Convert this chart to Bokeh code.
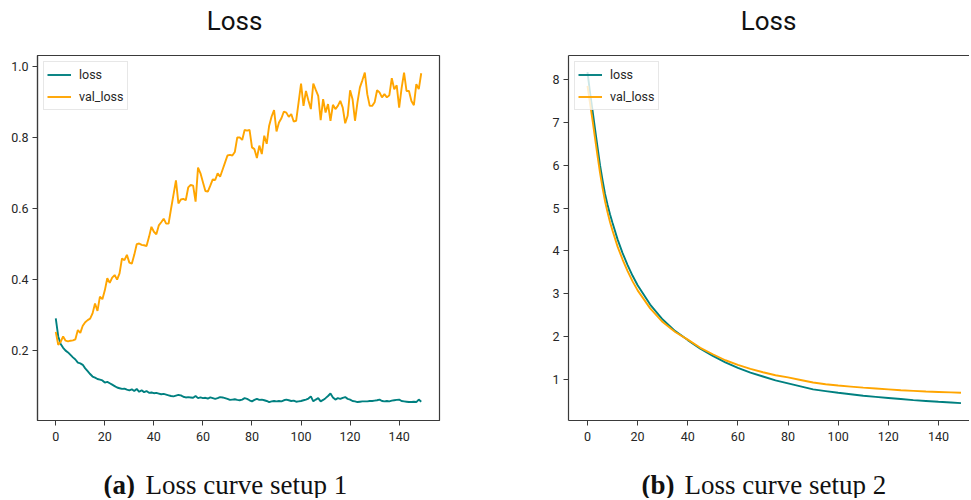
from bokeh.plotting import figure
from bokeh.layouts import column, row
from bokeh.models import Range1d, FixedTicker, LinearAxis, ColumnDataSource
from bokeh.core.properties import value
from bokeh.embed import file_html
from bokeh.resources import INLINE

# ---------------- data ----------------
titles = ["Loss", "Loss"]
series_names = ["loss", "val_loss"]
captions_bold = ["(a)", "(b)"]
captions_text = ["Loss curve setup 1", "Loss curve setup 2"]

epochs_1 = list(range(150))
loss_1 = [
    0.291, 0.240, 0.219, 0.208, 0.200, 0.195, 0.188, 0.181, 0.175, 0.166,
    0.164, 0.160, 0.150, 0.142, 0.134, 0.127, 0.124, 0.120, 0.118, 0.116,
    0.110, 0.112, 0.108, 0.104, 0.100, 0.096, 0.094, 0.092, 0.093, 0.090,
    0.088, 0.091, 0.086, 0.092, 0.084, 0.088, 0.083, 0.086, 0.081, 0.082,
    0.080, 0.081, 0.079, 0.077, 0.078, 0.076, 0.074, 0.072, 0.071, 0.073,
    0.075, 0.074, 0.070, 0.068, 0.069, 0.068, 0.067, 0.072, 0.066, 0.068,
    0.066, 0.067, 0.065, 0.068, 0.066, 0.064, 0.066, 0.069, 0.068, 0.066,
    0.064, 0.061, 0.062, 0.063, 0.061, 0.060, 0.062, 0.066, 0.064, 0.060,
    0.057, 0.061, 0.064, 0.061, 0.062, 0.060, 0.058, 0.055, 0.057, 0.058,
    0.057, 0.058, 0.057, 0.060, 0.062, 0.060, 0.058, 0.059, 0.056, 0.057,
    0.058, 0.060, 0.062, 0.065, 0.071, 0.057, 0.062, 0.066, 0.057, 0.061,
    0.066, 0.072, 0.079, 0.068, 0.062, 0.066, 0.064, 0.067, 0.069, 0.064,
    0.062, 0.058, 0.057, 0.055, 0.056, 0.057, 0.057, 0.057, 0.058, 0.058,
    0.059, 0.060, 0.062, 0.058, 0.057, 0.058, 0.057, 0.059, 0.060, 0.061,
    0.062, 0.058, 0.057, 0.056, 0.055, 0.055, 0.056, 0.055, 0.062, 0.056,
]
val_loss_1 = [
    0.253, 0.216, 0.225, 0.240, 0.228, 0.226, 0.228, 0.229, 0.232, 0.258,
    0.250, 0.270, 0.280, 0.286, 0.290, 0.305, 0.333, 0.312, 0.352, 0.345,
    0.370, 0.404, 0.391, 0.406, 0.413, 0.400, 0.418, 0.460, 0.455, 0.470,
    0.448, 0.445, 0.470, 0.500, 0.502, 0.498, 0.497, 0.495, 0.520, 0.549,
    0.535, 0.528, 0.553, 0.562, 0.572, 0.558, 0.558, 0.600, 0.640, 0.680,
    0.615, 0.626, 0.628, 0.624, 0.660, 0.667, 0.665, 0.620, 0.716, 0.700,
    0.675, 0.650, 0.648, 0.665, 0.683, 0.681, 0.700, 0.690, 0.710, 0.730,
    0.750, 0.752, 0.750, 0.760, 0.801, 0.801, 0.794, 0.822, 0.820, 0.822,
    0.773, 0.768, 0.743, 0.778, 0.754, 0.806, 0.783, 0.834, 0.860, 0.878,
    0.818, 0.843, 0.855, 0.874, 0.871, 0.859, 0.867, 0.846, 0.848, 0.900,
    0.953, 0.890, 0.932, 0.905, 0.881, 0.953, 0.935, 0.918, 0.850, 0.909,
    0.871, 0.895, 0.848, 0.893, 0.881, 0.890, 0.904, 0.885, 0.841, 0.862,
    0.934, 0.909, 0.848, 0.900, 0.942, 0.962, 0.984, 0.923, 0.890, 0.890,
    0.900, 0.934, 0.928, 0.914, 0.923, 0.914, 0.920, 0.968, 0.937, 0.948,
    0.885, 0.940, 0.984, 0.932, 0.932, 0.904, 0.892, 0.951, 0.937, 0.982,
]

epochs_2 = [0, 1, 2, 3, 4, 5, 6, 7, 8, 9, 10, 12, 14, 16, 18, 20, 25, 30, 35,
            40, 45, 50, 55, 60, 65, 70, 75, 80, 85, 90, 95, 100, 105, 110,
            115, 120, 125, 130, 135, 140, 145, 149]
loss_2 = [8.17, 7.70, 7.28, 6.85, 6.42, 6.00, 5.65, 5.33, 5.08, 4.85, 4.65,
          4.27, 3.95, 3.67, 3.42, 3.20, 2.75, 2.40, 2.13, 1.92, 1.72, 1.55,
          1.40, 1.27, 1.16, 1.07, 0.98, 0.91, 0.84, 0.77, 0.73, 0.69, 0.655,
          0.62, 0.595, 0.57, 0.545, 0.52, 0.50, 0.48, 0.465, 0.45]
val_loss_2 = [7.85, 7.45, 7.05, 6.63, 6.22, 5.82, 5.47, 5.16, 4.90, 4.67, 4.47,
              4.10, 3.80, 3.53, 3.29, 3.08, 2.66, 2.34, 2.11, 1.93, 1.74, 1.59,
              1.45, 1.34, 1.25, 1.17, 1.10, 1.05, 0.99, 0.93, 0.89, 0.86, 0.835,
              0.81, 0.79, 0.77, 0.75, 0.735, 0.72, 0.71, 0.70, 0.69]

x_ticks = [0, 20, 40, 60, 80, 100, 120, 140]
y_ticks_1 = [0.2, 0.4, 0.6, 0.8, 1.0]
y_labels_1 = ["0.2", "0.4", "0.6", "0.8", "1.0"]
y_ticks_2 = [1, 2, 3, 4, 5, 6, 7, 8]

assert len(loss_1) == 150 and len(val_loss_1) == 150
assert len(epochs_2) == len(loss_2) == len(val_loss_2)

# ---------------- style ----------------
SANS = "Roboto"
SERIF = "Liberation Serif"
TEAL = "#008080"
ORANGE = "#FFA500"
SPINE = "#3a3a3a"
TXT = "#262626"
TOTAL_W = 969


def style_axis(ax):
    ax.axis_line_color = SPINE
    ax.axis_line_width = 1.2
    ax.major_tick_line_color = SPINE
    ax.major_tick_out = 5
    ax.major_tick_in = 0
    ax.minor_tick_out = 0
    ax.minor_tick_in = 0
    ax.major_label_text_font = SANS
    ax.major_label_text_font_size = "12.5px"
    ax.major_label_text_color = TXT


def make_plot(x, y_a, y_b, xr, yr, yticks, width, mbl, mbr, full_box, ylabels=None):
    p = figure(width=width, height=412, output_backend="svg", toolbar_location=None,
               x_range=Range1d(*xr), y_range=Range1d(*yr),
               min_border_left=mbl, min_border_right=mbr,
               min_border_top=15, min_border_bottom=32)
    p.xgrid.visible = False
    p.ygrid.visible = False
    p.background_fill_color = "white"
    p.border_fill_color = "white"
    p.xaxis.ticker = FixedTicker(ticks=x_ticks)
    p.yaxis.ticker = FixedTicker(ticks=yticks)
    if ylabels is not None:
        p.yaxis.major_label_overrides = {t: l for t, l in zip(yticks, ylabels)}
    p.xaxis.major_label_standoff = 6
    p.yaxis.major_label_standoff = 4
    for ax in p.xaxis + p.yaxis:
        style_axis(ax)
    if full_box:
        p.outline_line_color = SPINE
        p.outline_line_width = 1.2
        p.outline_line_alpha = 1.0
    else:
        p.outline_line_color = None
        top = LinearAxis(ticker=FixedTicker(ticks=[]))
        top.axis_line_color = SPINE
        top.axis_line_width = 1.2
        top.major_tick_out = 0
        top.major_tick_in = 0
        top.minor_tick_out = 0
        top.minor_tick_in = 0
        top.major_label_text_font_size = "0px"
        top.major_label_standoff = 0
        p.add_layout(top, "above")
    p.line(x, y_a, color=TEAL, line_width=1.9, legend_label=series_names[0])
    p.line(x, y_b, color=ORANGE, line_width=1.9, legend_label=series_names[1])
    lg = p.legend[0]
    lg.location = "top_left"
    lg.margin = 6
    lg.padding = 3
    lg.spacing = 3
    lg.glyph_width = 24
    lg.glyph_height = 19
    lg.label_height = 19
    lg.label_standoff = 8
    lg.label_text_font = SANS
    lg.label_text_font_size = "12.5px"
    lg.label_text_color = TXT
    lg.border_line_color = "#d0d0d0"
    lg.border_line_width = 1
    lg.background_fill_color = "white"
    lg.background_fill_alpha = 0.8
    return p


p1 = make_plot(epochs_1, loss_1, val_loss_1, (-7.45, 156.45), (0.003, 1.032),
               y_ticks_1, 520, 37, 81, True, y_labels_1)
p2 = make_plot(epochs_2, loss_2, val_loss_2, (-7.58, 152.4), (0.044, 8.56),
               y_ticks_2, TOTAL_W - 520, 48, 0, False)


def strip(height):
    s = figure(width=TOTAL_W, height=height, output_backend="svg", toolbar_location=None,
               x_range=Range1d(0, TOTAL_W), y_range=Range1d(0, height),
               x_axis_location=None, y_axis_location=None,
               min_border=0, min_border_left=0, min_border_right=0,
               min_border_top=0, min_border_bottom=0)
    s.outline_line_color = None
    s.xgrid.visible = False
    s.ygrid.visible = False
    return s


# titles strip (top, 40 px tall)
top_strip = strip(40)
title_src = ColumnDataSource(dict(x=[234, 768], y=[20, 20], t=titles))
top_strip.text(x="x", y="y", text="t", source=title_src, text_font=value(SANS),
               text_font_size="26px", text_color="#111111",
               text_baseline="middle", text_align="center")

# captions strip (bottom, 46 px tall)
cap = strip(46)
bold_src = ColumnDataSource(dict(x=[103, 641], y=[14, 14], t=captions_bold))
text_src = ColumnDataSource(dict(x=[145, 684], y=[14, 14], t=captions_text))
cap.text(x="x", y="y", text="t", source=bold_src, text_font=value(SERIF),
         text_font_size="27px", text_font_style="bold", text_color="#111111",
         text_baseline="middle", text_align="left")
cap.text(x="x", y="y", text="t", source=text_src, text_font=value(SERIF),
         text_font_size="27px", text_color="#111111",
         text_baseline="middle", text_align="left")

layout = column(top_strip, row(p1, p2), cap)
open("out.html", "w").write(file_html(layout, INLINE))
